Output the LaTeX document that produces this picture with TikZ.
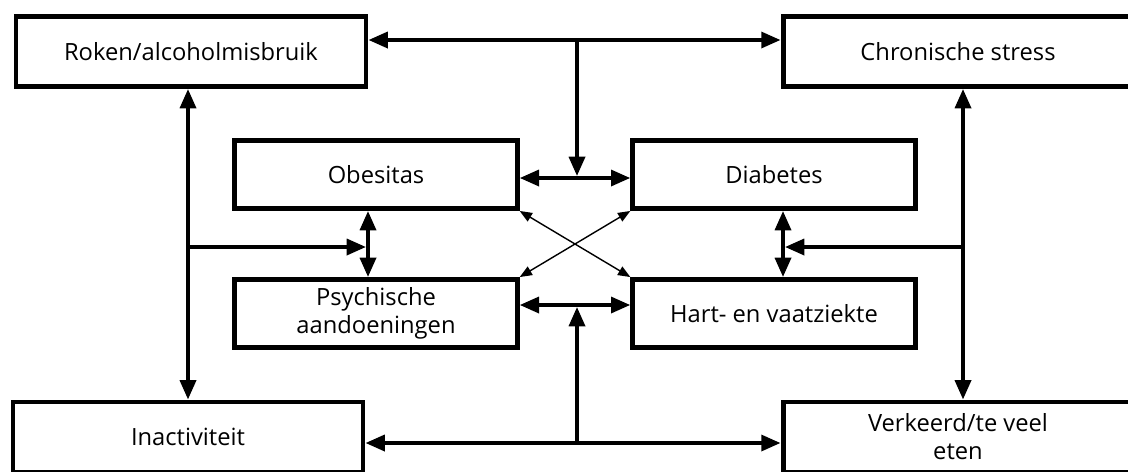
\documentclass[tikz,border=0pt]{standalone}
\usepackage{fontspec}
\setmainfont{Open Sans}
\usetikzlibrary{arrows.meta}

\begin{document}
\begin{tikzpicture}[x=0.02cm,y=-0.02cm,
    box/.style={draw,line width=2.8pt,align=center,inner sep=2pt,
        font=\fontsize{13.5}{16}\selectfont},
    topbox/.style={box,minimum width=7.0cm,minimum height=1.4cm},
    midbox/.style={box,minimum width=5.65cm,minimum height=1.36cm},
    conn/.style={line width=2.2pt,{Triangle[length=11pt,width=9pt]}-{Triangle[length=11pt,width=9pt]}},
    feed/.style={line width=2.2pt,-{Triangle[length=11pt,width=9pt]}},
    cross/.style={line width=0.8pt,{Triangle[length=7pt,width=5.5pt]}-{Triangle[length=7pt,width=5.5pt]}}]
    \useasboundingbox (0,0) rectangle (1128,471);
    \clip (0,0) rectangle (1128,471);
    % outer boxes
    \node[topbox] (roken) at (191,51.5) {Roken/alcoholmisbruik};
    \node[topbox] (stress) at (958,51.5) {Chronische stress};
    \node[topbox] (inact) at (188,437) {Inactiviteit};
    \node[topbox] (eten) at (958,437) {Verkeerd/te veel\\eten};
    % inner boxes
    \node[midbox] (obesitas) at (376,174.5) {Obesitas};
    \node[midbox] (diabetes) at (774,174.5) {Diabetes};
    \node[midbox] (psych) at (376,313.5) {Psychische\\aandoeningen};
    \node[midbox] (hart) at (774,313.5) {Hart- en vaatziekte};
    % junctions
    \coordinate (topmid) at (577,40);
    \coordinate (upmid) at (577,178);
    \coordinate (lowmid) at (577,305);
    \coordinate (botmid) at (577,443);
    \coordinate (lbranch) at (188,247);
    \coordinate (lvert) at (368,247);
    \coordinate (rbranch) at (963,247);
    \coordinate (rvert) at (783,247);
    % top and bottom links
    \draw[conn] (roken.east |- topmid) -- (stress.west |- topmid);
    \draw[conn] (obesitas.east |- upmid) -- (diabetes.west |- upmid);
    \draw[feed] (topmid) -- ([yshift=1.1pt]upmid);
    \draw[conn] (inact.east |- botmid) -- (eten.west |- botmid);
    \draw[conn] (psych.east |- lowmid) -- (hart.west |- lowmid);
    \draw[feed] (botmid) -- ([yshift=-1.1pt]lowmid);
    % left and right links
    \draw[conn] (roken.south -| lbranch) -- (inact.north -| lbranch);
    \draw[conn] (obesitas.south -| lvert) -- (psych.north -| lvert);
    \draw[feed] (lbranch) -- ([xshift=-1.1pt]lvert);
    \draw[conn] (stress.south -| rbranch) -- (eten.north -| rbranch);
    \draw[conn] (diabetes.south -| rvert) -- (hart.north -| rvert);
    \draw[feed] (rbranch) -- ([xshift=1.1pt]rvert);
    % diagonals
    \draw[cross] (obesitas.south east) -- (hart.north west);
    \draw[cross] (diabetes.south west) -- (psych.north east);
\end{tikzpicture}
\end{document}
